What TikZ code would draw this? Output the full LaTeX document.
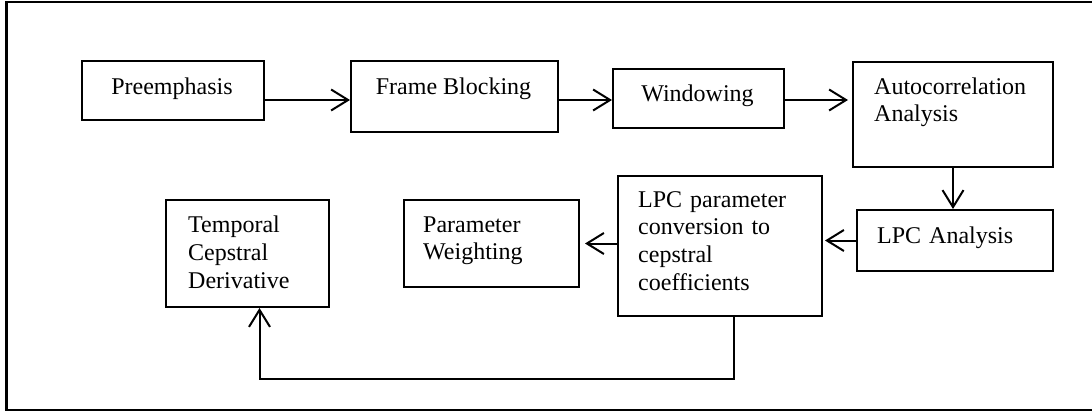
\documentclass[tikz,border=0pt]{standalone}
\usepackage{fontspec}
\setmainfont{Liberation Serif}
\usetikzlibrary{arrows.meta}
\begin{document}
\begin{tikzpicture}[x=1pt,y=-1pt,
  blk/.style={draw, line width=2pt, rectangle, inner sep=0pt, anchor=north west},
  lbl/.style={font=\fontsize{24}{27.8}\selectfont, inner sep=0pt, align=left,
    text width=170pt, anchor=base west},
  clbl/.style={font=\fontsize{24}{28}\selectfont, inner sep=0pt, anchor=base},
  flow/.style={line width=2pt, -{Straight Barb[length=17pt,width=21pt,line width=2pt]}}]

\useasboundingbox (0,0) rectangle (1092,412);
% outer frame
\draw[line width=2.5pt] (6.5,2) rectangle (1110,410);

% processing blocks
\node[blk, minimum width=182pt, minimum height=59pt]  (pre)  at (81,60)  {};
\node[blk, minimum width=207pt, minimum height=71pt]  (fb)   at (350,60) {};
\node[blk, minimum width=171pt, minimum height=59pt]  (win)  at (612,68) {};
\node[blk, minimum width=200pt, minimum height=105pt] (auto) at (852,61) {};
\node[blk, minimum width=196pt, minimum height=61pt]  (lpca) at (856,209) {};
\node[blk, minimum width=204pt, minimum height=140pt] (conv) at (617,175) {};
\node[blk, minimum width=175pt, minimum height=87pt]  (pw)   at (403,199) {};
\node[blk, minimum width=163pt, minimum height=107pt] (temp) at (165,199) {};

% block texts
\node[clbl] (preT)  at (172,94)  {Preemphasis};
\node[clbl] (fbT)   at (453.5,94) {Frame Blocking};
\node[clbl] (winT)  at (697.5,101) {Windowing};
\node[lbl]  (autoT) at (874,94)  {Autocorrelation\\Analysis};
\node[lbl]  (lpcaT) at (877,243) {LPC Analysis};
\node[lbl]  (convT) at (638,207) {LPC parameter\\conversion to\\cepstral\\coefficients};
\node[lbl]  (pwT)   at (423,232) {Parameter\\Weighting};
\node[lbl]  (tempT) at (188,232.5) {Temporal\\Cepstral\\Derivative};

% connectors
\coordinate (row) at (0,100);
\coordinate (loop) at (0,379);
\draw[flow] (pre.east |- row) -- (fb.west |- row);
\draw[flow] (fb.east |- row) -- (win.west |- row);
\draw[flow, shorten >=4pt] (win.east |- row) -- (auto.west |- row);
\draw[flow] (auto.south) -- (auto.south |- lpca.north);
\draw[flow, shorten >=2pt] (lpca.west) -- (lpca.west -| conv.east);
\draw[flow, shorten >=5pt] (conv.west |- pw.east) -- (pw.east);
\draw[flow] ([xshift=14pt]conv.south) -- ([xshift=14pt]conv.south |- loop)
  -- ([xshift=12pt]temp.south |- loop) -- ([xshift=12pt]temp.south);
\end{tikzpicture}
\end{document}
